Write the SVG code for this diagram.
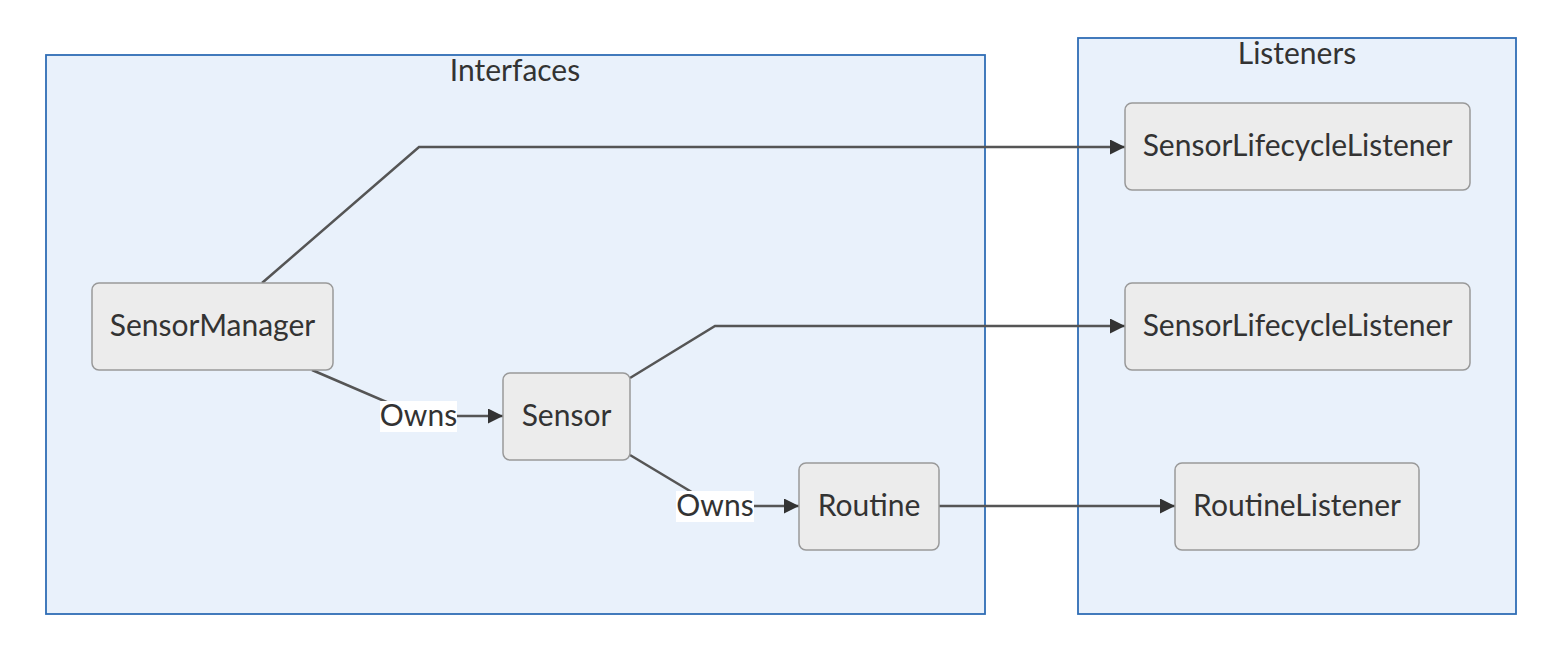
<svg xmlns="http://www.w3.org/2000/svg" width="1556" height="662" viewBox="0 0 1556 662">
<defs>
<style>
.cluster{fill:#e9f1fb;stroke:#2f6db5;stroke-width:1.8}
.node rect{fill:#ececec;stroke:#999;stroke-width:1.5}
text{font-family:Lato,"Noto Sans","Liberation Sans",sans-serif;fill:#333;font-size:30px;text-anchor:middle;dominant-baseline:central}
.edge{fill:none;stroke:#555;stroke-width:2.5}
.lbl{fill:#fff}
</style>
<marker id="arr" viewBox="0 0 10 10" refX="10" refY="5" markerWidth="15" markerHeight="15" markerUnits="userSpaceOnUse" orient="auto">
<path d="M0,0 L10,5 L0,10 z" fill="#333"/>
</marker>
</defs>
<rect width="1556" height="662" fill="#fff"/>
<g id="cluster-interfaces">
<rect class="cluster" x="46" y="55" width="939" height="559"/>
<text x="515" y="69">Interfaces</text>
</g>
<g id="cluster-listeners">
<rect class="cluster" x="1078" y="38" width="438" height="576"/>
<text x="1297" y="52">Listeners</text>
</g>
<g id="edges">
<path class="edge" d="M262,283 L419,147 L1125,147" marker-end="url(#arr)"/>
<path class="edge" d="M312,370 L419,416 L503,416" marker-end="url(#arr)"/>
<path class="edge" d="M630,378 L715,326 L1125,326" marker-end="url(#arr)"/>
<path class="edge" d="M630,455 L715,506 L799,506" marker-end="url(#arr)"/>
<path class="edge" d="M939,506 L1175,506" marker-end="url(#arr)"/>
<rect class="lbl" x="380" y="401" width="77" height="31"/>
<text x="418.5" y="414">Owns</text>
<rect class="lbl" x="676" y="491" width="78" height="31"/>
<text x="715" y="504">Owns</text>
</g>
<g id="node-sensormanager" class="node">
<rect x="92" y="283" width="241" height="87" rx="7"/>
<text x="212.5" y="324">SensorManager</text>
</g>
<g id="node-sensor" class="node">
<rect x="503" y="373" width="127" height="87" rx="7"/>
<text x="566.5" y="414">Sensor</text>
</g>
<g id="node-routine" class="node">
<rect x="799" y="463" width="140" height="87" rx="7"/>
<text x="869" y="504">Routine</text>
</g>
<g id="node-sll1" class="node">
<rect x="1125" y="103" width="345" height="87" rx="7"/>
<text x="1297.5" y="144">SensorLifecycleListener</text>
</g>
<g id="node-sll2" class="node">
<rect x="1125" y="283" width="345" height="87" rx="7"/>
<text x="1297.5" y="324">SensorLifecycleListener</text>
</g>
<g id="node-routinelistener" class="node">
<rect x="1175" y="463" width="244" height="87" rx="7"/>
<text x="1297" y="504">RoutineListener</text>
</g>
</svg>
